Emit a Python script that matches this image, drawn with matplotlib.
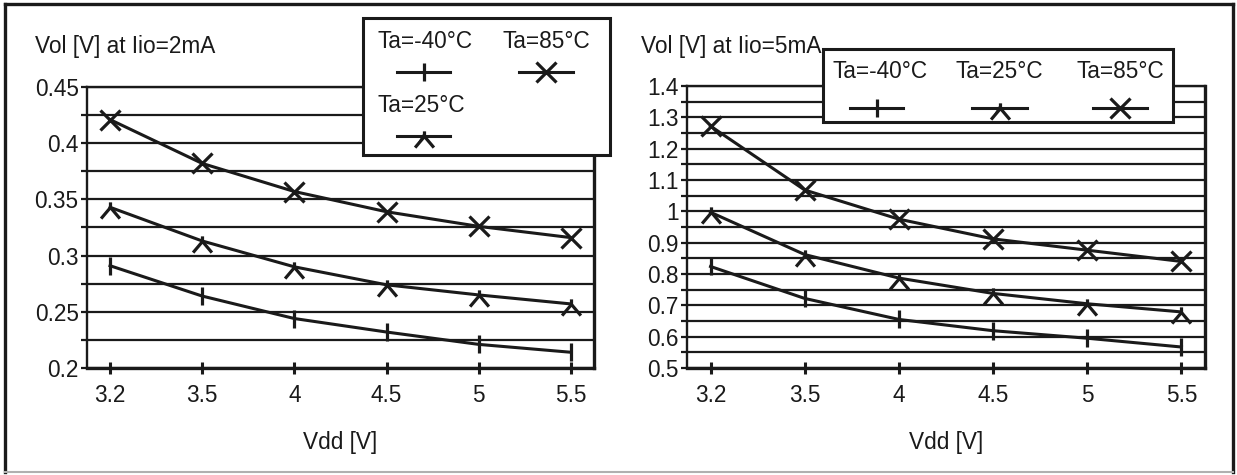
import numpy as np
import matplotlib
matplotlib.use('Agg')
import matplotlib.pyplot as plt
from matplotlib.path import Path
from matplotlib.patches import Rectangle

# ---------------- data ----------------
x_labels = ['3.2', '3.5', '4', '4.5', '5', '5.5']
series_labels = ['Ta=-40°C', 'Ta=25°C', 'Ta=85°C']

left_m40 = [0.291, 0.264, 0.244, 0.232, 0.221, 0.214]
left_25 = [0.343, 0.313, 0.290, 0.274, 0.265, 0.257]
left_85 = [0.421, 0.382, 0.357, 0.339, 0.326, 0.316]

right_m40 = [0.824, 0.722, 0.655, 0.619, 0.595, 0.567]
right_25 = [0.997, 0.862, 0.787, 0.738, 0.705, 0.679]
right_85 = [1.272, 1.068, 0.975, 0.912, 0.876, 0.840]

left_yticks = [0.2, 0.25, 0.3, 0.35, 0.4, 0.45]
left_yticklabels = ['0.2', '0.25', '0.3', '0.35', '0.4', '0.45']
right_yticks = [0.5, 0.6, 0.7, 0.8, 0.9, 1.0, 1.1, 1.2, 1.3, 1.4]
right_yticklabels = ['0.5', '0.6', '0.7', '0.8', '0.9', '1', '1.1', '1.2', '1.3', '1.4']

left_title = 'Vol [V] at Iio=2mA'
right_title = 'Vol [V] at Iio=5mA'
x_title = 'Vdd [V]'

# ---------------- style ----------------
plt.rcParams['font.family'] = ['Liberation Sans', 'DejaVu Sans']
INK = '#1a1a1a'
FS = 16.3
W, H = 1237, 475

lam = Path([(0, 0.3), (0, 0), (-0.55, -0.65), (0, 0), (0.55, -0.65)],
           [Path.MOVETO, Path.LINETO, Path.LINETO, Path.MOVETO, Path.LINETO])
markers = ['|', lam, 'x']
msizes = [13.5, 16, 14.5]

fig = plt.figure(figsize=(W / 100, H / 100), dpi=100)


def px_rect(x0, y0, x1, y1):
    return [x0 / W, 1 - y1 / H, (x1 - x0) / W, (y1 - y0) / H]


axL = fig.add_axes(px_rect(87, 87, 594, 368))
axR = fig.add_axes(px_rect(687, 86, 1205, 368))


def style(ax, ylim, major, labels, minor_step):
    ax.set_xlim(-0.25, 5.25)
    ax.set_ylim(*ylim)
    ax.set_yticks(major)
    ax.set_yticklabels(labels)
    ax.set_yticks(np.arange(ylim[0] + minor_step, ylim[1], 2 * minor_step), minor=True)
    ax.set_xticks(range(len(x_labels)))
    ax.set_xticklabels(x_labels)
    ax.set_axisbelow(True)
    ax.grid(axis='y', which='both', color=INK, lw=1.6)
    ax.grid(axis='x', visible=False)
    ax.tick_params(axis='y', which='both', direction='out', length=4, width=1.6,
                   pad=2, color=INK, labelsize=FS, labelcolor=INK)
    ax.tick_params(axis='x', direction='inout', length=9, width=2.2, pad=7,
                   color=INK, labelsize=FS, labelcolor=INK)
    for s in ['left', 'top']:
        ax.spines[s].set_linewidth(1.7)
    for s in ['right', 'bottom']:
        ax.spines[s].set_linewidth(2.4)
    for s in ax.spines.values():
        s.set_color(INK)
    ax.set_xlabel(x_title, fontsize=FS, labelpad=17, color=INK)


style(axL, (0.2, 0.45), left_yticks, left_yticklabels, 0.025)
style(axR, (0.5, 1.4), right_yticks, right_yticklabels, 0.05)

xs = np.arange(len(x_labels))
for ax, sers in [(axL, [left_m40, left_25, left_85]), (axR, [right_m40, right_25, right_85])]:
    for ys, mk, ms in zip(sers, markers, msizes):
        ax.plot(xs, ys, color=INK, lw=2.2, marker=mk, ms=ms, mew=2.3, mec=INK,
                mfc='none', zorder=3, clip_on=False)

fig.text(35 / W, 1 - 46 / H, left_title, fontsize=FS, va='center', ha='left', color=INK)
fig.text(641 / W, 1 - 46 / H, right_title, fontsize=FS, va='center', ha='left', color=INK)

# ---------------- overlay: legends and outer frame ----------------
ov = fig.add_axes([0, 0, 1, 1])
ov.set_xlim(0, W)
ov.set_ylim(H, 0)
ov.axis('off')
ov.set_zorder(10)

# outer frame
ov.plot([5, 5], [4, 472], color=INK, lw=2.4, clip_on=False)
ov.plot([5, 1233], [4, 4], color=INK, lw=2.4, clip_on=False)
ov.plot([1233, 1233], [4, 472], color=INK, lw=2.4, clip_on=False)
ov.plot([5, 1233], [472, 472], color='#b0b0b0', lw=1.5, clip_on=False)


def legend_box(x0, y0, x1, y1, entries):
    ov.add_patch(Rectangle((x0, y0), x1 - x0, y1 - y0, facecolor='white',
                           edgecolor=INK, lw=2.2, zorder=1))
    for label, mk, ms, tx, ty, lx0, lx1, ly in entries:
        ov.text(tx, ty, label, fontsize=FS, ha='center', va='center', color=INK, zorder=3)
        ov.plot([lx0, (lx0 + lx1) / 2, lx1], [ly, ly, ly], color=INK, lw=2.2,
                marker=mk, ms=ms, mew=2.3, markevery=[1], zorder=3, clip_on=False)


legend_box(363, 18, 610, 155, [
    (series_labels[0], markers[0], msizes[0], 425, 42, 397, 450, 72),
    (series_labels[2], markers[2], msizes[2], 546, 42, 519, 573, 72),
    (series_labels[1], markers[1], msizes[1], 421, 105, 397, 450, 136),
])
legend_box(823, 49, 1173, 122, [
    (series_labels[0], markers[0], msizes[0], 880, 72, 850, 903, 108),
    (series_labels[1], markers[1], msizes[1], 999, 72, 972, 1027, 108),
    (series_labels[2], markers[2], msizes[2], 1120, 72, 1093, 1147, 108),
])

fig.savefig('out.png', dpi=100)
